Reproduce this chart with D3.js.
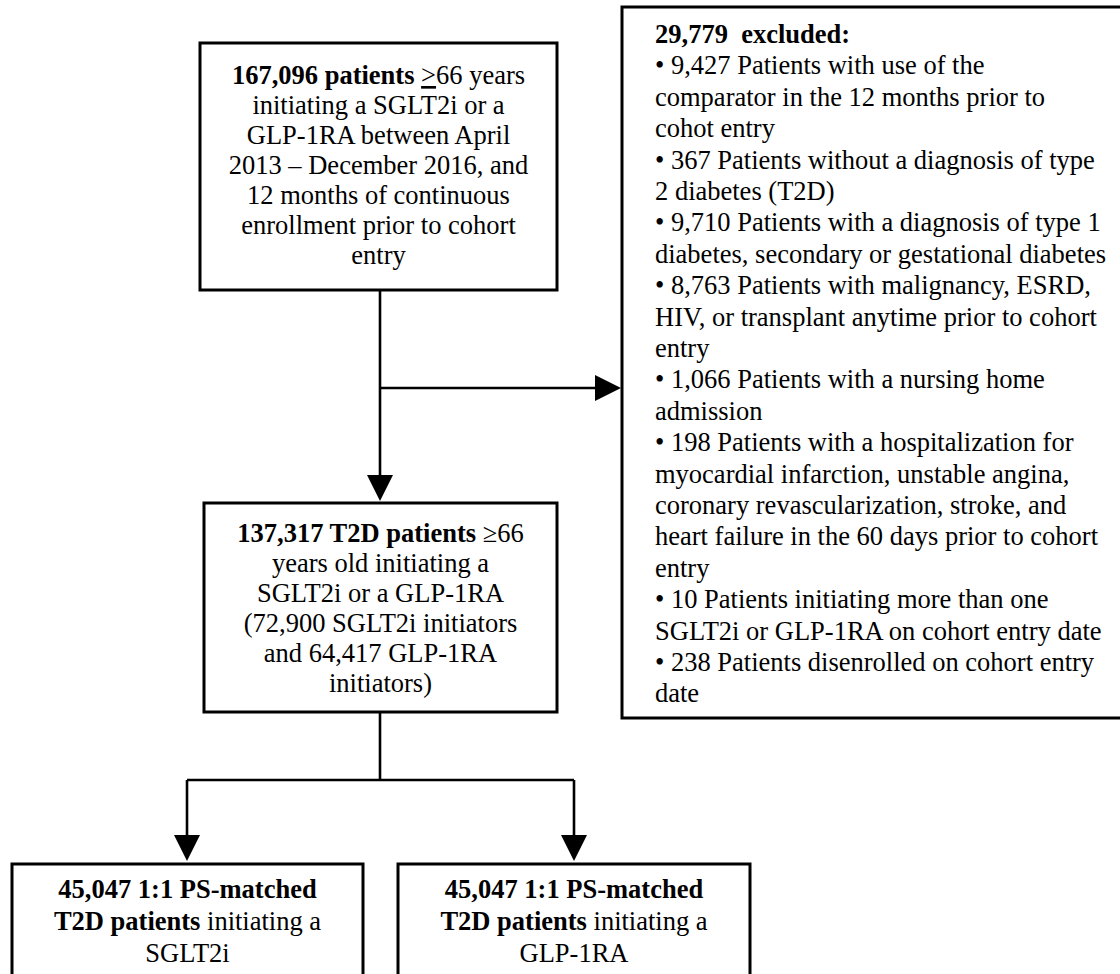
<!DOCTYPE html>
<html>
<head>
<meta charset="utf-8">
<script src="https://cdn.jsdelivr.net/npm/d3@7"></script>
<style>
  html, body { margin: 0; padding: 0; background: #fff; }
  svg text { font-family: "Liberation Serif", "Times New Roman", serif; fill: #000; }
</style>
</head>
<body>
<div id="chart"></div>
<script>
// text of each box, one entry per printed line, split into runs (b = bold, u = underline)
const cohortText = [
  [{t: "167,096 patients", b: 1}, {t: " "}, {t: ">", u: 1}, {t: "66 years"}],
  [{t: "initiating a SGLT2i or a"}],
  [{t: "GLP-1RA between April"}],
  [{t: "2013 \u2013 December 2016, and"}],
  [{t: "12 months of continuous"}],
  [{t: "enrollment prior to cohort"}],
  [{t: "entry"}]
];
const t2dText = [
  [{t: "137,317 T2D patients", b: 1}, {t: " \u226566"}],
  [{t: "years old initiating a"}],
  [{t: "SGLT2i or a GLP-1RA"}],
  [{t: "(72,900 SGLT2i initiators"}],
  [{t: "and 64,417 GLP-1RA"}],
  [{t: "initiators)"}]
];
const exclusionHeader = "29,779  excluded:";
const exclusionItems = [
  ["\u2022 9,427 Patients with use of the", "comparator in the 12 months prior to", "cohot entry"],
  ["\u2022 367 Patients without a diagnosis of type", "2 diabetes (T2D)"],
  ["\u2022 9,710 Patients with a diagnosis of type 1", "diabetes, secondary or gestational diabetes"],
  ["\u2022 8,763 Patients with malignancy, ESRD,", "HIV, or transplant anytime prior to cohort", "entry"],
  ["\u2022 1,066 Patients with a nursing home", "admission"],
  ["\u2022 198 Patients with a hospitalization for", "myocardial infarction, unstable angina,", "coronary revascularization, stroke, and", "heart failure in the 60 days prior to cohort", "entry"],
  ["\u2022 10 Patients initiating more than one", "SGLT2i or GLP-1RA on cohort entry date"],
  ["\u2022 238 Patients disenrolled on cohort entry", "date"]
];
const sgltText = [
  [{t: "45,047 1:1 PS-matched", b: 1}],
  [{t: "T2D patients", b: 1}, {t: " initiating a"}],
  [{t: "SGLT2i"}]
];
const glpText = [
  [{t: "45,047 1:1 PS-matched", b: 1}],
  [{t: "T2D patients", b: 1}, {t: " initiating a"}],
  [{t: "GLP-1RA"}]
];

const W = 1120, H = 974;
const fontSize = 26.5;

// layout
const boxes = {
  cohort: {x: 200, y: 43, w: 357, h: 247, first: 41, step: 30, lines: cohortText},
  t2d:    {x: 204, y: 503, w: 353, h: 209, first: 39, step: 30, lines: t2dText},
  sglt:   {x: 12,  y: 864, w: 351, h: 140, first: 34, step: 32, lines: sgltText},
  glp:    {x: 398, y: 864, w: 352, h: 140, first: 34, step: 32, lines: glpText},
  excl:   {x: 622, y: 7,   w: 510, h: 711}
};

const svg = d3.select("#chart").append("svg")
  .attr("width", W)
  .attr("height", H);

// boxes
svg.selectAll("rect.box")
  .data(Object.values(boxes))
  .enter()
  .append("rect")
  .attr("class", "box")
  .attr("x", d => d.x)
  .attr("y", d => d.y)
  .attr("width", d => d.w)
  .attr("height", d => d.h)
  .attr("fill", "#fff")
  .attr("stroke", "#000")
  .attr("stroke-width", 3);

// centred box texts
["cohort", "t2d", "sglt", "glp"].forEach(key => {
  const b = boxes[key];
  const txt = svg.append("text")
    .attr("text-anchor", "middle")
    .style("font-size", fontSize + "px")
    .attr("xml:space", "preserve");
  b.lines.forEach((line, i) => {
    line.forEach((run, j) => {
      const ts = txt.append("tspan").text(run.t);
      if (j === 0) ts.attr("x", b.x + b.w / 2).attr("y", b.y + b.first + i * b.step);
      if (run.b) ts.attr("font-weight", "bold");
      if (run.u) ts.attr("text-decoration", "underline");
    });
  });
});

// exclusion list
const ex = boxes.excl;
const exLines = [{t: exclusionHeader, b: 1}].concat(
  exclusionItems.flatMap(item => item.map(t => ({t: t})))
);
svg.append("g")
  .selectAll("text")
  .data(exLines)
  .enter()
  .append("text")
  .attr("x", ex.x + 33)
  .attr("y", (d, i) => ex.y + 36 + i * 31.4)
  .attr("xml:space", "preserve")
  .style("font-size", fontSize + "px")
  .attr("font-weight", d => d.b ? "bold" : null)
  .text(d => d.t);

// connectors
const line = d3.line();
const connectors = [
  [[380, boxes.cohort.y + boxes.cohort.h], [380, boxes.t2d.y - 24]],
  [[380, 388], [boxes.excl.x - 24, 388]],
  [[380, boxes.t2d.y + boxes.t2d.h], [380, 780]],
  [[187, 780], [574, 780]],
  [[187, 780], [187, boxes.sglt.y - 24]],
  [[574, 780], [574, boxes.glp.y - 24]]
];
svg.selectAll("path.conn")
  .data(connectors)
  .enter()
  .append("path")
  .attr("class", "conn")
  .attr("d", d => line(d))
  .attr("fill", "none")
  .attr("stroke", "#000")
  .attr("stroke-width", 2.6);

// arrow heads: tip point + direction
const heads = [
  {x: 380, y: boxes.t2d.y - 2, dir: "down"},
  {x: boxes.excl.x - 1, y: 388, dir: "right"},
  {x: 187, y: boxes.sglt.y - 3, dir: "down"},
  {x: 574, y: boxes.glp.y - 3, dir: "down"}
];
svg.selectAll("path.head")
  .data(heads)
  .enter()
  .append("path")
  .attr("class", "head")
  .attr("d", d => d.dir === "down"
    ? line([[d.x, d.y], [d.x - 13, d.y - 26], [d.x + 13, d.y - 26]]) + "Z"
    : line([[d.x, d.y], [d.x - 26, d.y - 13], [d.x - 26, d.y + 13]]) + "Z")
  .attr("fill", "#000");
</script>
</body>
</html>
